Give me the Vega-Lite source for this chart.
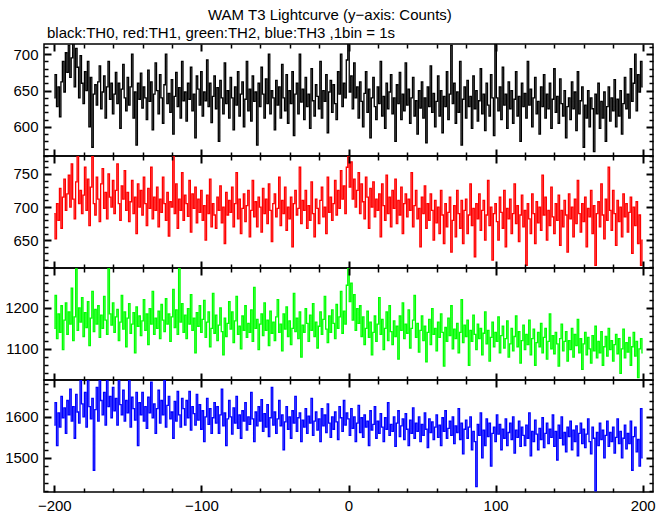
{
"$schema": "https://vega.github.io/schema/vega-lite/v6.json",
"padding": {"left": 3, "top": 8, "right": 10, "bottom": 2},
"background": "white",
"title": {"text": "WAM T3 Lightcurve (y−axis: Counts)", "anchor": "middle", "font": "Liberation Sans", "fontSize": 15, "fontWeight": "normal", "color": "black", "offset": 2},
"datasets": {"lc": [
{"t":-200,"TH0":640,"TH1":690,"TH2":1150,"TH3":1580},
{"t":-199,"TH0":672,"TH1":652,"TH2":1230,"TH3":1635},
{"t":-198,"TH0":628,"TH1":705,"TH2":1125,"TH3":1530},
{"t":-197,"TH0":655,"TH1":680,"TH2":1185,"TH3":1610},
{"t":-196,"TH0":614,"TH1":728,"TH2":1140,"TH3":1575},
{"t":-195,"TH0":662,"TH1":668,"TH2":1205,"TH3":1650},
{"t":-194,"TH0":690,"TH1":715,"TH2":1098,"TH3":1598},
{"t":-193,"TH0":648,"TH1":742,"TH2":1170,"TH3":1622},
{"t":-192,"TH0":702,"TH1":695,"TH2":1212,"TH3":1560},
{"t":-191,"TH0":675,"TH1":720,"TH2":1135,"TH3":1640},
{"t":-190,"TH0":712,"TH1":748,"TH2":1190,"TH3":1605},
{"t":-189,"TH0":668,"TH1":700,"TH2":1160,"TH3":1668},
{"t":-188,"TH0":695,"TH1":765,"TH2":1248,"TH3":1590},
{"t":-187,"TH0":720,"TH1":712,"TH2":1120,"TH3":1625},
{"t":-186,"TH0":655,"TH1":682,"TH2":1178,"TH3":1548},
{"t":-185,"TH0":708,"TH1":738,"TH2":1295,"TH3":1655},
{"t":-184,"TH0":682,"TH1":778,"TH2":1145,"TH3":1612},
{"t":-183,"TH0":640,"TH1":705,"TH2":1200,"TH3":1585},
{"t":-182,"TH0":698,"TH1":725,"TH2":1165,"TH3":1690},
{"t":-181,"TH0":660,"TH1":690,"TH2":1225,"TH3":1632},
{"t":-180,"TH0":632,"TH1":718,"TH2":1130,"TH3":1600},
{"t":-179,"TH0":676,"TH1":760,"TH2":1188,"TH3":1660},
{"t":-178,"TH0":650,"TH1":695,"TH2":1152,"TH3":1575},
{"t":-177,"TH0":690,"TH1":742,"TH2":1215,"TH3":1690},
{"t":-176,"TH0":600,"TH1":672,"TH2":1108,"TH3":1625},
{"t":-175,"TH0":668,"TH1":730,"TH2":1175,"TH3":1595},
{"t":-174,"TH0":572,"TH1":776,"TH2":1240,"TH3":1645},
{"t":-173,"TH0":645,"TH1":705,"TH2":1142,"TH3":1470},
{"t":-172,"TH0":658,"TH1":688,"TH2":1196,"TH3":1618},
{"t":-171,"TH0":630,"TH1":745,"TH2":1160,"TH3":1672},
{"t":-170,"TH0":662,"TH1":712,"TH2":1205,"TH3":1590},
{"t":-169,"TH0":684,"TH1":678,"TH2":1128,"TH3":1690},
{"t":-168,"TH0":625,"TH1":735,"TH2":1182,"TH3":1640},
{"t":-167,"TH0":648,"TH1":758,"TH2":1150,"TH3":1605},
{"t":-166,"TH0":670,"TH1":698,"TH2":1228,"TH3":1660},
{"t":-165,"TH0":612,"TH1":722,"TH2":1170,"TH3":1580},
{"t":-164,"TH0":655,"TH1":682,"TH2":1135,"TH3":1690},
{"t":-163,"TH0":690,"TH1":750,"TH2":1300,"TH3":1625},
{"t":-162,"TH0":638,"TH1":715,"TH2":1185,"TH3":1650},
{"t":-161,"TH0":660,"TH1":700,"TH2":1158,"TH3":1598},
{"t":-160,"TH0":618,"TH1":740,"TH2":1212,"TH3":1672},
{"t":-159,"TH0":645,"TH1":690,"TH2":1140,"TH3":1615},
{"t":-158,"TH0":675,"TH1":725,"TH2":1178,"TH3":1645},
{"t":-157,"TH0":632,"TH1":765,"TH2":1196,"TH3":1580},
{"t":-156,"TH0":660,"TH1":705,"TH2":1120,"TH3":1690},
{"t":-155,"TH0":598,"TH1":680,"TH2":1165,"TH3":1630},
{"t":-154,"TH0":652,"TH1":732,"TH2":1230,"TH3":1605},
{"t":-153,"TH0":686,"TH1":712,"TH2":1148,"TH3":1665},
{"t":-152,"TH0":640,"TH1":755,"TH2":1190,"TH3":1590},
{"t":-151,"TH0":622,"TH1":695,"TH2":1105,"TH3":1640},
{"t":-150,"TH0":668,"TH1":722,"TH2":1175,"TH3":1610},
{"t":-149,"TH0":630,"TH1":678,"TH2":1210,"TH3":1690},
{"t":-148,"TH0":655,"TH1":708,"TH2":1138,"TH3":1575},
{"t":-147,"TH0":700,"TH1":740,"TH2":1160,"TH3":1648},
{"t":-146,"TH0":612,"TH1":690,"TH2":1188,"TH3":1620},
{"t":-145,"TH0":648,"TH1":715,"TH2":1090,"TH3":1592},
{"t":-144,"TH0":575,"TH1":660,"TH2":1202,"TH3":1660},
{"t":-143,"TH0":660,"TH1":735,"TH2":1155,"TH3":1530},
{"t":-142,"TH0":638,"TH1":700,"TH2":1180,"TH3":1635},
{"t":-141,"TH0":674,"TH1":725,"TH2":1132,"TH3":1605},
{"t":-140,"TH0":626,"TH1":688,"TH2":1168,"TH3":1660},
{"t":-139,"TH0":655,"TH1":745,"TH2":1220,"TH3":1590},
{"t":-138,"TH0":640,"TH1":705,"TH2":1145,"TH3":1625},
{"t":-137,"TH0":610,"TH1":672,"TH2":1185,"TH3":1572},
{"t":-136,"TH0":678,"TH1":728,"TH2":1110,"TH3":1648},
{"t":-135,"TH0":635,"TH1":698,"TH2":1198,"TH3":1610},
{"t":-134,"TH0":662,"TH1":760,"TH2":1160,"TH3":1685},
{"t":-133,"TH0":596,"TH1":682,"TH2":1240,"TH3":1598},
{"t":-132,"TH0":645,"TH1":715,"TH2":1135,"TH3":1632},
{"t":-131,"TH0":688,"TH1":695,"TH2":1175,"TH3":1560},
{"t":-130,"TH0":650,"TH1":730,"TH2":1150,"TH3":1620},
{"t":-129,"TH0":618,"TH1":670,"TH2":1192,"TH3":1665},
{"t":-128,"TH0":672,"TH1":712,"TH2":1125,"TH3":1585},
{"t":-127,"TH0":640,"TH1":692,"TH2":1208,"TH3":1640},
{"t":-126,"TH0":605,"TH1":745,"TH2":1170,"TH3":1605},
{"t":-125,"TH0":658,"TH1":705,"TH2":1142,"TH3":1690},
{"t":-124,"TH0":700,"TH1":680,"TH2":1222,"TH3":1575},
{"t":-123,"TH0":632,"TH1":722,"TH2":1160,"TH3":1628},
{"t":-122,"TH0":646,"TH1":656,"TH2":1185,"TH3":1650},
{"t":-121,"TH0":620,"TH1":708,"TH2":1118,"TH3":1595},
{"t":-120,"TH0":665,"TH1":700,"TH2":1178,"TH3":1612},
{"t":-119,"TH0":590,"TH1":778,"TH2":1245,"TH3":1548},
{"t":-118,"TH0":642,"TH1":690,"TH2":1152,"TH3":1638},
{"t":-117,"TH0":675,"TH1":735,"TH2":1195,"TH3":1590},
{"t":-116,"TH0":628,"TH1":668,"TH2":1135,"TH3":1662},
{"t":-115,"TH0":654,"TH1":712,"TH2":1300,"TH3":1605},
{"t":-114,"TH0":612,"TH1":695,"TH2":1165,"TH3":1575},
{"t":-113,"TH0":690,"TH1":752,"TH2":1210,"TH3":1645},
{"t":-112,"TH0":636,"TH1":680,"TH2":1140,"TH3":1620},
{"t":-111,"TH0":648,"TH1":718,"TH2":1182,"TH3":1580},
{"t":-110,"TH0":608,"TH1":705,"TH2":1125,"TH3":1640},
{"t":-109,"TH0":660,"TH1":686,"TH2":1198,"TH3":1598},
{"t":-108,"TH0":638,"TH1":740,"TH2":1160,"TH3":1662},
{"t":-107,"TH0":682,"TH1":662,"TH2":1232,"TH3":1568},
{"t":-106,"TH0":622,"TH1":720,"TH2":1145,"TH3":1625},
{"t":-105,"TH0":645,"TH1":698,"TH2":1175,"TH3":1608},
{"t":-104,"TH0":585,"TH1":730,"TH2":1090,"TH3":1580},
{"t":-103,"TH0":670,"TH1":676,"TH2":1188,"TH3":1655},
{"t":-102,"TH0":652,"TH1":712,"TH2":1155,"TH3":1592},
{"t":-101,"TH0":630,"TH1":692,"TH2":1205,"TH3":1630},
{"t":-100,"TH0":676,"TH1":725,"TH2":1140,"TH3":1570},
{"t":-99,"TH0":615,"TH1":680,"TH2":1172,"TH3":1615},
{"t":-98,"TH0":648,"TH1":702,"TH2":1218,"TH3":1540},
{"t":-97,"TH0":636,"TH1":650,"TH2":1128,"TH3":1600},
{"t":-96,"TH0":692,"TH1":718,"TH2":1165,"TH3":1645},
{"t":-95,"TH0":628,"TH1":690,"TH2":1190,"TH3":1582},
{"t":-94,"TH0":660,"TH1":742,"TH2":1105,"TH3":1620},
{"t":-93,"TH0":606,"TH1":670,"TH2":1150,"TH3":1560},
{"t":-92,"TH0":642,"TH1":705,"TH2":1235,"TH3":1598},
{"t":-91,"TH0":670,"TH1":688,"TH2":1138,"TH3":1635},
{"t":-90,"TH0":625,"TH1":668,"TH2":1182,"TH3":1585},
{"t":-89,"TH0":654,"TH1":715,"TH2":1120,"TH3":1625},
{"t":-88,"TH0":580,"TH1":695,"TH2":1158,"TH3":1560},
{"t":-87,"TH0":664,"TH1":732,"TH2":1200,"TH3":1605},
{"t":-86,"TH0":640,"TH1":676,"TH2":1142,"TH3":1668},
{"t":-85,"TH0":618,"TH1":700,"TH2":1085,"TH3":1578},
{"t":-84,"TH0":688,"TH1":645,"TH2":1175,"TH3":1610},
{"t":-83,"TH0":632,"TH1":722,"TH2":1130,"TH3":1530},
{"t":-82,"TH0":650,"TH1":688,"TH2":1162,"TH3":1595},
{"t":-81,"TH0":612,"TH1":710,"TH2":1215,"TH3":1640},
{"t":-80,"TH0":668,"TH1":692,"TH2":1148,"TH3":1600},
{"t":-79,"TH0":640,"TH1":730,"TH2":1190,"TH3":1558},
{"t":-78,"TH0":596,"TH1":670,"TH2":1115,"TH3":1622},
{"t":-77,"TH0":655,"TH1":705,"TH2":1168,"TH3":1585},
{"t":-76,"TH0":630,"TH1":752,"TH2":1228,"TH3":1650},
{"t":-75,"TH0":676,"TH1":682,"TH2":1135,"TH3":1572},
{"t":-74,"TH0":615,"TH1":712,"TH2":1155,"TH3":1605},
{"t":-73,"TH0":645,"TH1":660,"TH2":1100,"TH3":1548},
{"t":-72,"TH0":662,"TH1":698,"TH2":1180,"TH3":1615},
{"t":-71,"TH0":600,"TH1":720,"TH2":1145,"TH3":1590},
{"t":-70,"TH0":638,"TH1":678,"TH2":1205,"TH3":1635},
{"t":-69,"TH0":690,"TH1":702,"TH2":1128,"TH3":1568},
{"t":-68,"TH0":622,"TH1":725,"TH2":1162,"TH3":1600},
{"t":-67,"TH0":652,"TH1":655,"TH2":1140,"TH3":1582},
{"t":-66,"TH0":608,"TH1":695,"TH2":1195,"TH3":1660},
{"t":-65,"TH0":670,"TH1":740,"TH2":1118,"TH3":1595},
{"t":-64,"TH0":635,"TH1":685,"TH2":1250,"TH3":1540},
{"t":-63,"TH0":648,"TH1":708,"TH2":1150,"TH3":1612},
{"t":-62,"TH0":575,"TH1":670,"TH2":1172,"TH3":1578},
{"t":-61,"TH0":660,"TH1":715,"TH2":1098,"TH3":1625},
{"t":-60,"TH0":628,"TH1":700,"TH2":1160,"TH3":1590},
{"t":-59,"TH0":682,"TH1":662,"TH2":1185,"TH3":1642},
{"t":-58,"TH0":645,"TH1":728,"TH2":1132,"TH3":1565},
{"t":-57,"TH0":612,"TH1":690,"TH2":1212,"TH3":1608},
{"t":-56,"TH0":666,"TH1":712,"TH2":1145,"TH3":1575},
{"t":-55,"TH0":632,"TH1":675,"TH2":1170,"TH3":1630},
{"t":-54,"TH0":700,"TH1":735,"TH2":1108,"TH3":1552},
{"t":-53,"TH0":618,"TH1":695,"TH2":1192,"TH3":1598},
{"t":-52,"TH0":650,"TH1":648,"TH2":1138,"TH3":1672},
{"t":-51,"TH0":640,"TH1":705,"TH2":1165,"TH3":1580},
{"t":-50,"TH0":596,"TH1":720,"TH2":1120,"TH3":1612},
{"t":-49,"TH0":664,"TH1":685,"TH2":1178,"TH3":1560},
{"t":-48,"TH0":630,"TH1":698,"TH2":1220,"TH3":1595},
{"t":-47,"TH0":655,"TH1":745,"TH2":1140,"TH3":1640},
{"t":-46,"TH0":612,"TH1":672,"TH2":1160,"TH3":1578},
{"t":-45,"TH0":686,"TH1":710,"TH2":1095,"TH3":1605},
{"t":-44,"TH0":640,"TH1":690,"TH2":1185,"TH3":1520},
{"t":-43,"TH0":622,"TH1":730,"TH2":1148,"TH3":1588},
{"t":-42,"TH0":672,"TH1":665,"TH2":1202,"TH3":1625},
{"t":-41,"TH0":605,"TH1":700,"TH2":1130,"TH3":1570},
{"t":-40,"TH0":650,"TH1":682,"TH2":1168,"TH3":1600},
{"t":-39,"TH0":632,"TH1":715,"TH2":1110,"TH3":1548},
{"t":-38,"TH0":676,"TH1":640,"TH2":1150,"TH3":1615},
{"t":-37,"TH0":588,"TH1":705,"TH2":1235,"TH3":1585},
{"t":-36,"TH0":645,"TH1":725,"TH2":1142,"TH3":1650},
{"t":-35,"TH0":660,"TH1":688,"TH2":1175,"TH3":1565},
{"t":-34,"TH0":618,"TH1":698,"TH2":1125,"TH3":1598},
{"t":-33,"TH0":700,"TH1":760,"TH2":1190,"TH3":1610},
{"t":-32,"TH0":634,"TH1":675,"TH2":1080,"TH3":1540},
{"t":-31,"TH0":652,"TH1":710,"TH2":1158,"TH3":1592},
{"t":-30,"TH0":610,"TH1":695,"TH2":1140,"TH3":1575},
{"t":-29,"TH0":668,"TH1":725,"TH2":1198,"TH3":1620},
{"t":-28,"TH0":628,"TH1":668,"TH2":1162,"TH3":1560},
{"t":-27,"TH0":645,"TH1":702,"TH2":1118,"TH3":1602},
{"t":-26,"TH0":598,"TH1":680,"TH2":1182,"TH3":1585},
{"t":-25,"TH0":680,"TH1":738,"TH2":1145,"TH3":1645},
{"t":-24,"TH0":636,"TH1":690,"TH2":1210,"TH3":1555},
{"t":-23,"TH0":615,"TH1":655,"TH2":1130,"TH3":1590},
{"t":-22,"TH0":658,"TH1":712,"TH2":1165,"TH3":1612},
{"t":-21,"TH0":642,"TH1":698,"TH2":1102,"TH3":1568},
{"t":-20,"TH0":625,"TH1":675,"TH2":1155,"TH3":1595},
{"t":-19,"TH0":690,"TH1":710,"TH2":1190,"TH3":1540},
{"t":-18,"TH0":612,"TH1":730,"TH2":1135,"TH3":1620},
{"t":-17,"TH0":650,"TH1":685,"TH2":1172,"TH3":1578},
{"t":-16,"TH0":635,"TH1":700,"TH2":1228,"TH3":1605},
{"t":-15,"TH0":672,"TH1":660,"TH2":1148,"TH3":1562},
{"t":-14,"TH0":592,"TH1":745,"TH2":1115,"TH3":1632},
{"t":-13,"TH0":648,"TH1":692,"TH2":1180,"TH3":1585},
{"t":-12,"TH0":664,"TH1":715,"TH2":1140,"TH3":1550},
{"t":-11,"TH0":620,"TH1":680,"TH2":1195,"TH3":1600},
{"t":-10,"TH0":658,"TH1":705,"TH2":1162,"TH3":1570},
{"t":-9,"TH0":632,"TH1":740,"TH2":1125,"TH3":1612},
{"t":-8,"TH0":610,"TH1":688,"TH2":1208,"TH3":1588},
{"t":-7,"TH0":676,"TH1":725,"TH2":1150,"TH3":1545},
{"t":-6,"TH0":645,"TH1":698,"TH2":1178,"TH3":1625},
{"t":-5,"TH0":700,"TH1":755,"TH2":1240,"TH3":1598},
{"t":-4,"TH0":628,"TH1":712,"TH2":1138,"TH3":1565},
{"t":-3,"TH0":660,"TH1":732,"TH2":1192,"TH3":1640},
{"t":-2,"TH0":640,"TH1":690,"TH2":1160,"TH3":1580},
{"t":-1,"TH0":692,"TH1":760,"TH2":1255,"TH3":1610},
{"t":0,"TH0":715,"TH1":778,"TH2":1298,"TH3":1595},
{"t":1,"TH0":648,"TH1":730,"TH2":1215,"TH3":1555},
{"t":2,"TH0":670,"TH1":768,"TH2":1260,"TH3":1620},
{"t":3,"TH0":625,"TH1":712,"TH2":1170,"TH3":1572},
{"t":4,"TH0":688,"TH1":742,"TH2":1232,"TH3":1600},
{"t":5,"TH0":640,"TH1":700,"TH2":1145,"TH3":1540},
{"t":6,"TH0":655,"TH1":725,"TH2":1198,"TH3":1585},
{"t":7,"TH0":612,"TH1":752,"TH2":1162,"TH3":1628},
{"t":8,"TH0":662,"TH1":690,"TH2":1205,"TH3":1562},
{"t":9,"TH0":635,"TH1":735,"TH2":1130,"TH3":1598},
{"t":10,"TH0":600,"TH1":708,"TH2":1178,"TH3":1550},
{"t":11,"TH0":646,"TH1":682,"TH2":1110,"TH3":1605},
{"t":12,"TH0":676,"TH1":745,"TH2":1150,"TH3":1575},
{"t":13,"TH0":620,"TH1":715,"TH2":1192,"TH3":1590},
{"t":14,"TH0":652,"TH1":668,"TH2":1128,"TH3":1530},
{"t":15,"TH0":585,"TH1":728,"TH2":1165,"TH3":1615},
{"t":16,"TH0":640,"TH1":700,"TH2":1085,"TH3":1568},
{"t":17,"TH0":668,"TH1":738,"TH2":1140,"TH3":1582},
{"t":18,"TH0":628,"TH1":685,"TH2":1180,"TH3":1625},
{"t":19,"TH0":610,"TH1":712,"TH2":1118,"TH3":1548},
{"t":20,"TH0":655,"TH1":695,"TH2":1160,"TH3":1590},
{"t":21,"TH0":632,"TH1":720,"TH2":1225,"TH3":1560},
{"t":22,"TH0":690,"TH1":655,"TH2":1135,"TH3":1608},
{"t":23,"TH0":615,"TH1":735,"TH2":1172,"TH3":1575},
{"t":24,"TH0":642,"TH1":702,"TH2":1098,"TH3":1540},
{"t":25,"TH0":598,"TH1":680,"TH2":1150,"TH3":1598},
{"t":26,"TH0":660,"TH1":748,"TH2":1190,"TH3":1570},
{"t":27,"TH0":625,"TH1":690,"TH2":1120,"TH3":1635},
{"t":28,"TH0":648,"TH1":715,"TH2":1205,"TH3":1555},
{"t":29,"TH0":672,"TH1":670,"TH2":1142,"TH3":1582},
{"t":30,"TH0":618,"TH1":725,"TH2":1110,"TH3":1565},
{"t":31,"TH0":640,"TH1":698,"TH2":1168,"TH3":1600},
{"t":32,"TH0":580,"TH1":742,"TH2":1130,"TH3":1528},
{"t":33,"TH0":658,"TH1":675,"TH2":1155,"TH3":1585},
{"t":34,"TH0":632,"TH1":710,"TH2":1075,"TH3":1615},
{"t":35,"TH0":675,"TH1":688,"TH2":1180,"TH3":1552},
{"t":36,"TH0":610,"TH1":730,"TH2":1145,"TH3":1578},
{"t":37,"TH0":645,"TH1":660,"TH2":1212,"TH3":1595},
{"t":38,"TH0":622,"TH1":705,"TH2":1125,"TH3":1545},
{"t":39,"TH0":688,"TH1":720,"TH2":1160,"TH3":1608},
{"t":40,"TH0":630,"TH1":685,"TH2":1138,"TH3":1570},
{"t":41,"TH0":652,"TH1":712,"TH2":1195,"TH3":1530},
{"t":42,"TH0":605,"TH1":695,"TH2":1102,"TH3":1592},
{"t":43,"TH0":640,"TH1":752,"TH2":1150,"TH3":1560},
{"t":44,"TH0":668,"TH1":670,"TH2":1170,"TH3":1622},
{"t":45,"TH0":615,"TH1":702,"TH2":1230,"TH3":1548},
{"t":46,"TH0":636,"TH1":725,"TH2":1128,"TH3":1585},
{"t":47,"TH0":590,"TH1":682,"TH2":1162,"TH3":1565},
{"t":48,"TH0":650,"TH1":698,"TH2":1092,"TH3":1600},
{"t":49,"TH0":626,"TH1":640,"TH2":1145,"TH3":1540},
{"t":50,"TH0":662,"TH1":715,"TH2":1180,"TH3":1582},
{"t":51,"TH0":612,"TH1":690,"TH2":1120,"TH3":1555},
{"t":52,"TH0":640,"TH1":732,"TH2":1155,"TH3":1610},
{"t":53,"TH0":578,"TH1":668,"TH2":1068,"TH3":1570},
{"t":54,"TH0":655,"TH1":705,"TH2":1140,"TH3":1525},
{"t":55,"TH0":628,"TH1":680,"TH2":1172,"TH3":1595},
{"t":56,"TH0":684,"TH1":720,"TH2":1110,"TH3":1562},
{"t":57,"TH0":620,"TH1":695,"TH2":1198,"TH3":1588},
{"t":58,"TH0":646,"TH1":650,"TH2":1135,"TH3":1545},
{"t":59,"TH0":600,"TH1":710,"TH2":1150,"TH3":1575},
{"t":60,"TH0":635,"TH1":676,"TH2":1095,"TH3":1605},
{"t":61,"TH0":670,"TH1":700,"TH2":1165,"TH3":1550},
{"t":62,"TH0":615,"TH1":660,"TH2":1128,"TH3":1580},
{"t":63,"TH0":650,"TH1":725,"TH2":1185,"TH3":1530},
{"t":64,"TH0":592,"TH1":688,"TH2":1140,"TH3":1598},
{"t":65,"TH0":642,"TH1":645,"TH2":1058,"TH3":1565},
{"t":66,"TH0":628,"TH1":705,"TH2":1152,"TH3":1615},
{"t":67,"TH0":676,"TH1":670,"TH2":1118,"TH3":1548},
{"t":68,"TH0":610,"TH1":692,"TH2":1175,"TH3":1572},
{"t":69,"TH0":645,"TH1":715,"TH2":1132,"TH3":1590},
{"t":70,"TH0":712,"TH1":632,"TH2":1205,"TH3":1555},
{"t":71,"TH0":632,"TH1":680,"TH2":1100,"TH3":1600},
{"t":72,"TH0":660,"TH1":702,"TH2":1148,"TH3":1535},
{"t":73,"TH0":605,"TH1":655,"TH2":1125,"TH3":1578},
{"t":74,"TH0":648,"TH1":725,"TH2":1162,"TH3":1562},
{"t":75,"TH0":620,"TH1":690,"TH2":1090,"TH3":1620},
{"t":76,"TH0":690,"TH1":668,"TH2":1140,"TH3":1545},
{"t":77,"TH0":575,"TH1":710,"TH2":1220,"TH3":1585},
{"t":78,"TH0":638,"TH1":645,"TH2":1115,"TH3":1510},
{"t":79,"TH0":655,"TH1":695,"TH2":1158,"TH3":1570},
{"t":80,"TH0":612,"TH1":712,"TH2":1130,"TH3":1592},
{"t":81,"TH0":664,"TH1":660,"TH2":1170,"TH3":1548},
{"t":82,"TH0":628,"TH1":688,"TH2":1060,"TH3":1575},
{"t":83,"TH0":642,"TH1":735,"TH2":1145,"TH3":1600},
{"t":84,"TH0":598,"TH1":672,"TH2":1118,"TH3":1520},
{"t":85,"TH0":670,"TH1":698,"TH2":1182,"TH3":1565},
{"t":86,"TH0":625,"TH1":625,"TH2":1135,"TH3":1540},
{"t":87,"TH0":650,"TH1":705,"TH2":1098,"TH3":1430},
{"t":88,"TH0":608,"TH1":682,"TH2":1160,"TH3":1582},
{"t":89,"TH0":636,"TH1":720,"TH2":1125,"TH3":1555},
{"t":90,"TH0":680,"TH1":665,"TH2":1150,"TH3":1610},
{"t":91,"TH0":618,"TH1":695,"TH2":1085,"TH3":1500},
{"t":92,"TH0":645,"TH1":710,"TH2":1138,"TH3":1568},
{"t":93,"TH0":595,"TH1":650,"TH2":1190,"TH3":1530},
{"t":94,"TH0":660,"TH1":688,"TH2":1112,"TH3":1595},
{"t":95,"TH0":630,"TH1":740,"TH2":1145,"TH3":1552},
{"t":96,"TH0":615,"TH1":672,"TH2":1070,"TH3":1585},
{"t":97,"TH0":672,"TH1":700,"TH2":1128,"TH3":1480},
{"t":98,"TH0":640,"TH1":620,"TH2":1165,"TH3":1560},
{"t":99,"TH0":588,"TH1":690,"TH2":1105,"TH3":1575},
{"t":100,"TH0":715,"TH1":705,"TH2":1140,"TH3":1540},
{"t":101,"TH0":640,"TH1":678,"TH2":1118,"TH3":1605},
{"t":102,"TH0":622,"TH1":650,"TH2":1178,"TH3":1558},
{"t":103,"TH0":655,"TH1":715,"TH2":1090,"TH3":1582},
{"t":104,"TH0":610,"TH1":692,"TH2":1132,"TH3":1520},
{"t":105,"TH0":682,"TH1":668,"TH2":1155,"TH3":1570},
{"t":106,"TH0":630,"TH1":725,"TH2":1102,"TH3":1548},
{"t":107,"TH0":645,"TH1":640,"TH2":1125,"TH3":1595},
{"t":108,"TH0":598,"TH1":698,"TH2":1168,"TH3":1530},
{"t":109,"TH0":662,"TH1":682,"TH2":1080,"TH3":1562},
{"t":110,"TH0":625,"TH1":712,"TH2":1112,"TH3":1585},
{"t":111,"TH0":650,"TH1":660,"TH2":1150,"TH3":1545},
{"t":112,"TH0":605,"TH1":690,"TH2":1095,"TH3":1600},
{"t":113,"TH0":638,"TH1":735,"TH2":1130,"TH3":1512},
{"t":114,"TH0":676,"TH1":675,"TH2":1180,"TH3":1568},
{"t":115,"TH0":615,"TH1":702,"TH2":1105,"TH3":1550},
{"t":116,"TH0":642,"TH1":648,"TH2":1142,"TH3":1590},
{"t":117,"TH0":580,"TH1":688,"TH2":1065,"TH3":1528},
{"t":118,"TH0":660,"TH1":718,"TH2":1120,"TH3":1575},
{"t":119,"TH0":628,"TH1":670,"TH2":1158,"TH3":1555},
{"t":120,"TH0":646,"TH1":695,"TH2":1098,"TH3":1530},
{"t":121,"TH0":612,"TH1":612,"TH2":1135,"TH3":1580},
{"t":122,"TH0":690,"TH1":705,"TH2":1110,"TH3":1548},
{"t":123,"TH0":630,"TH1":682,"TH2":1170,"TH3":1610},
{"t":124,"TH0":652,"TH1":660,"TH2":1085,"TH3":1505},
{"t":125,"TH0":600,"TH1":720,"TH2":1125,"TH3":1565},
{"t":126,"TH0":640,"TH1":690,"TH2":1148,"TH3":1540},
{"t":127,"TH0":668,"TH1":645,"TH2":1060,"TH3":1592},
{"t":128,"TH0":618,"TH1":708,"TH2":1115,"TH3":1558},
{"t":129,"TH0":635,"TH1":676,"TH2":1140,"TH3":1520},
{"t":130,"TH0":590,"TH1":700,"TH2":1105,"TH3":1572},
{"t":131,"TH0":655,"TH1":665,"TH2":1162,"TH3":1545},
{"t":132,"TH0":628,"TH1":748,"TH2":1090,"TH3":1598},
{"t":133,"TH0":672,"TH1":688,"TH2":1128,"TH3":1525},
{"t":134,"TH0":612,"TH1":715,"TH2":1150,"TH3":1560},
{"t":135,"TH0":645,"TH1":650,"TH2":1075,"TH3":1585},
{"t":136,"TH0":625,"TH1":695,"TH2":1118,"TH3":1535},
{"t":137,"TH0":660,"TH1":672,"TH2":1185,"TH3":1570},
{"t":138,"TH0":598,"TH1":730,"TH2":1100,"TH3":1550},
{"t":139,"TH0":638,"TH1":685,"TH2":1132,"TH3":1605},
{"t":140,"TH0":680,"TH1":660,"TH2":1088,"TH3":1528},
{"t":141,"TH0":620,"TH1":705,"TH2":1140,"TH3":1565},
{"t":142,"TH0":642,"TH1":680,"TH2":1112,"TH3":1495},
{"t":143,"TH0":605,"TH1":718,"TH2":1058,"TH3":1580},
{"t":144,"TH0":666,"TH1":642,"TH2":1125,"TH3":1548},
{"t":145,"TH0":632,"TH1":695,"TH2":1160,"TH3":1600},
{"t":146,"TH0":615,"TH1":670,"TH2":1095,"TH3":1532},
{"t":147,"TH0":650,"TH1":710,"TH2":1118,"TH3":1562},
{"t":148,"TH0":585,"TH1":688,"TH2":1142,"TH3":1515},
{"t":149,"TH0":628,"TH1":632,"TH2":1070,"TH3":1575},
{"t":150,"TH0":640,"TH1":720,"TH2":1120,"TH3":1552},
{"t":151,"TH0":610,"TH1":682,"TH2":1098,"TH3":1590},
{"t":152,"TH0":662,"TH1":700,"TH2":1150,"TH3":1520},
{"t":153,"TH0":625,"TH1":655,"TH2":1080,"TH3":1568},
{"t":154,"TH0":648,"TH1":712,"TH2":1135,"TH3":1540},
{"t":155,"TH0":595,"TH1":675,"TH2":1108,"TH3":1578},
{"t":156,"TH0":676,"TH1":740,"TH2":1172,"TH3":1505},
{"t":157,"TH0":618,"TH1":690,"TH2":1090,"TH3":1560},
{"t":158,"TH0":636,"TH1":662,"TH2":1125,"TH3":1585},
{"t":159,"TH0":655,"TH1":705,"TH2":1050,"TH3":1535},
{"t":160,"TH0":572,"TH1":678,"TH2":1112,"TH3":1570},
{"t":161,"TH0":630,"TH1":715,"TH2":1140,"TH3":1525},
{"t":162,"TH0":612,"TH1":640,"TH2":1085,"TH3":1558},
{"t":163,"TH0":650,"TH1":698,"TH2":1128,"TH3":1595},
{"t":164,"TH0":600,"TH1":685,"TH2":1100,"TH3":1540},
{"t":165,"TH0":640,"TH1":725,"TH2":1065,"TH3":1510},
{"t":166,"TH0":625,"TH1":660,"TH2":1132,"TH3":1575},
{"t":167,"TH0":566,"TH1":702,"TH2":1095,"TH3":1548},
{"t":168,"TH0":645,"TH1":612,"TH2":1155,"TH3":1420},
{"t":169,"TH0":618,"TH1":690,"TH2":1078,"TH3":1562},
{"t":170,"TH0":660,"TH1":708,"TH2":1118,"TH3":1530},
{"t":171,"TH0":598,"TH1":670,"TH2":1090,"TH3":1585},
{"t":172,"TH0":635,"TH1":735,"TH2":1142,"TH3":1545},
{"t":173,"TH0":612,"TH1":688,"TH2":1060,"TH3":1568},
{"t":174,"TH0":648,"TH1":652,"TH2":1105,"TH3":1500},
{"t":175,"TH0":580,"TH1":712,"TH2":1130,"TH3":1555},
{"t":176,"TH0":628,"TH1":680,"TH2":1082,"TH3":1590},
{"t":177,"TH0":655,"TH1":760,"TH2":1150,"TH3":1528},
{"t":178,"TH0":608,"TH1":695,"TH2":1098,"TH3":1562},
{"t":179,"TH0":640,"TH1":665,"TH2":1120,"TH3":1540},
{"t":180,"TH0":622,"TH1":725,"TH2":1070,"TH3":1575},
{"t":181,"TH0":665,"TH1":690,"TH2":1110,"TH3":1512},
{"t":182,"TH0":600,"TH1":642,"TH2":1135,"TH3":1550},
{"t":183,"TH0":638,"TH1":710,"TH2":1088,"TH3":1595},
{"t":184,"TH0":615,"TH1":678,"TH2":1125,"TH3":1535},
{"t":185,"TH0":650,"TH1":700,"TH2":1040,"TH3":1565},
{"t":186,"TH0":590,"TH1":655,"TH2":1100,"TH3":1500},
{"t":187,"TH0":632,"TH1":720,"TH2":1148,"TH3":1548},
{"t":188,"TH0":668,"TH1":685,"TH2":1078,"TH3":1580},
{"t":189,"TH0":625,"TH1":705,"TH2":1115,"TH3":1522},
{"t":190,"TH0":645,"TH1":662,"TH2":1092,"TH3":1560},
{"t":191,"TH0":612,"TH1":692,"TH2":1128,"TH3":1535},
{"t":192,"TH0":680,"TH1":715,"TH2":1060,"TH3":1590},
{"t":193,"TH0":635,"TH1":630,"TH2":1105,"TH3":1470},
{"t":194,"TH0":660,"TH1":700,"TH2":1140,"TH3":1552},
{"t":195,"TH0":700,"TH1":672,"TH2":1082,"TH3":1575},
{"t":196,"TH0":622,"TH1":708,"TH2":1118,"TH3":1515},
{"t":197,"TH0":672,"TH1":645,"TH2":1030,"TH3":1545},
{"t":198,"TH0":648,"TH1":688,"TH2":1100,"TH3":1480},
{"t":199,"TH0":690,"TH1":612,"TH2":1125,"TH3":1620},
{"t":200,"TH0":655,"TH1":650,"TH2":1090,"TH3":1500}
]},
"data": {"name": "lc"},
"spacing": 0,
"bounds": "flush",
"config": {
  "view": {"stroke": "black", "strokeWidth": 1.5},
  "axis": {"domain": false, "grid": false, "labelFont": "Liberation Sans", "labelFontSize": 15, "labelColor": "black", "tickColor": "black", "labelFlush": false, "labelOverlap": false, "format": "d"},
  "title": {"font": "Liberation Sans", "fontWeight": "normal", "color": "black", "fontSize": 15}
},
"vconcat": [
{
 "width": 609, "height": 112,
 "title": {"text": "black:TH0, red:TH1, green:TH2, blue:TH3 ,1bin = 1s", "anchor": "start", "frame": "group", "fontSize": 15, "fontWeight": "normal", "offset": 2, "dx": 3},
 "layer": [
  {"mark": {"type": "line", "color": "black", "strokeWidth": 1.3, "interpolate": "step", "clip": true},
   "encoding": {
    "x": {"field": "t", "type": "quantitative", "scale": {"domain": [-207, 207], "nice": false, "zero": false}, "axis": {"title": null, "orient": "bottom", "values": [-200,-100,0,100,200], "ticks": false, "labels": false}},
    "y": {"field": "TH0", "type": "quantitative", "scale": {"domain": [560, 714], "nice": false, "zero": false}, "axis": {"title": null, "orient": "left", "values": [600,650,700], "ticks": false, "labelPadding": 6, "format": "d"}}}},
  {"mark": {"type": "line", "opacity": 0, "clip": true},
   "encoding": {
    "x": {"field": "t", "type": "quantitative", "scale": {"domain": [-207, 207], "nice": false, "zero": false}, "axis": {"title": null, "orient": "bottom", "values": [-200,-100,0,100,200], "labels": false, "tickSize": -7, "tickWidth": 2, "zindex": 2}},
    "y": {"field": "TH0", "type": "quantitative", "scale": {"domain": [560, 714], "nice": false, "zero": false}, "axis": {"title": null, "orient": "left", "values": [600,650,700], "labels": false, "tickSize": -7, "tickWidth": 2, "zindex": 2}}}},
  {"mark": {"type": "line", "opacity": 0, "clip": true},
   "encoding": {
    "x": {"field": "t", "type": "quantitative", "scale": {"domain": [-207, 207], "nice": false, "zero": false}, "axis": {"title": null, "orient": "top", "values": [-200,-100,0,100,200], "labels": false, "tickSize": -7, "tickWidth": 2, "zindex": 2}},
    "y": {"field": "TH0", "type": "quantitative", "scale": {"domain": [560, 714], "nice": false, "zero": false}, "axis": {"title": null, "orient": "right", "values": [600,650,700], "labels": false, "tickSize": -7, "tickWidth": 2, "zindex": 2}}}},
  {"mark": {"type": "line", "opacity": 0, "clip": true},
   "encoding": {
    "x": {"field": "t", "type": "quantitative", "scale": {"domain": [-207, 207], "nice": false, "zero": false}, "axis": {"title": null, "orient": "bottom", "values": [-180,-160,-140,-120,-80,-60,-40,-20,20,40,60,80,120,140,160,180], "labels": false, "tickSize": -4, "tickWidth": 1.5, "zindex": 2}},
    "y": {"field": "TH0", "type": "quantitative", "scale": {"domain": [560, 714], "nice": false, "zero": false}, "axis": {"title": null, "orient": "left", "values": [560,570,580,590,610,620,630,640,660,670,680,690,710], "labels": false, "tickSize": -4, "tickWidth": 1.5, "zindex": 2}}}},
  {"mark": {"type": "line", "opacity": 0, "clip": true},
   "encoding": {
    "x": {"field": "t", "type": "quantitative", "scale": {"domain": [-207, 207], "nice": false, "zero": false}, "axis": {"title": null, "orient": "top", "values": [-180,-160,-140,-120,-80,-60,-40,-20,20,40,60,80,120,140,160,180], "labels": false, "tickSize": -4, "tickWidth": 1.5, "zindex": 2}},
    "y": {"field": "TH0", "type": "quantitative", "scale": {"domain": [560, 714], "nice": false, "zero": false}, "axis": {"title": null, "orient": "right", "values": [560,570,580,590,610,620,630,640,660,670,680,690,710], "labels": false, "tickSize": -4, "tickWidth": 1.5, "zindex": 2}}}}
 ],
 "resolve": {"axis": {"x": "independent", "y": "independent"}}
},
{
 "width": 609, "height": 112,
 "layer": [
  {"mark": {"type": "line", "color": "#ff0000", "strokeWidth": 1.3, "interpolate": "step", "clip": true},
   "encoding": {
    "x": {"field": "t", "type": "quantitative", "scale": {"domain": [-207, 207], "nice": false, "zero": false}, "axis": {"title": null, "orient": "bottom", "values": [-200,-100,0,100,200], "ticks": false, "labels": false}},
    "y": {"field": "TH1", "type": "quantitative", "scale": {"domain": [608, 777], "nice": false, "zero": false}, "axis": {"title": null, "orient": "left", "values": [650,700,750], "ticks": false, "labelPadding": 6, "format": "d"}}}},
  {"mark": {"type": "line", "opacity": 0, "clip": true},
   "encoding": {
    "x": {"field": "t", "type": "quantitative", "scale": {"domain": [-207, 207], "nice": false, "zero": false}, "axis": {"title": null, "orient": "bottom", "values": [-200,-100,0,100,200], "labels": false, "tickSize": -7, "tickWidth": 2, "zindex": 2}},
    "y": {"field": "TH1", "type": "quantitative", "scale": {"domain": [608, 777], "nice": false, "zero": false}, "axis": {"title": null, "orient": "left", "values": [650,700,750], "labels": false, "tickSize": -7, "tickWidth": 2, "zindex": 2}}}},
  {"mark": {"type": "line", "opacity": 0, "clip": true},
   "encoding": {
    "x": {"field": "t", "type": "quantitative", "scale": {"domain": [-207, 207], "nice": false, "zero": false}, "axis": {"title": null, "orient": "top", "values": [-200,-100,0,100,200], "labels": false, "tickSize": -7, "tickWidth": 2, "zindex": 2}},
    "y": {"field": "TH1", "type": "quantitative", "scale": {"domain": [608, 777], "nice": false, "zero": false}, "axis": {"title": null, "orient": "right", "values": [650,700,750], "labels": false, "tickSize": -7, "tickWidth": 2, "zindex": 2}}}},
  {"mark": {"type": "line", "opacity": 0, "clip": true},
   "encoding": {
    "x": {"field": "t", "type": "quantitative", "scale": {"domain": [-207, 207], "nice": false, "zero": false}, "axis": {"title": null, "orient": "bottom", "values": [-180,-160,-140,-120,-80,-60,-40,-20,20,40,60,80,120,140,160,180], "labels": false, "tickSize": -4, "tickWidth": 1.5, "zindex": 2}},
    "y": {"field": "TH1", "type": "quantitative", "scale": {"domain": [608, 777], "nice": false, "zero": false}, "axis": {"title": null, "orient": "left", "values": [610,620,630,640,660,670,680,690,710,720,730,740,760,770], "labels": false, "tickSize": -4, "tickWidth": 1.5, "zindex": 2}}}},
  {"mark": {"type": "line", "opacity": 0, "clip": true},
   "encoding": {
    "x": {"field": "t", "type": "quantitative", "scale": {"domain": [-207, 207], "nice": false, "zero": false}, "axis": {"title": null, "orient": "top", "values": [-180,-160,-140,-120,-80,-60,-40,-20,20,40,60,80,120,140,160,180], "labels": false, "tickSize": -4, "tickWidth": 1.5, "zindex": 2}},
    "y": {"field": "TH1", "type": "quantitative", "scale": {"domain": [608, 777], "nice": false, "zero": false}, "axis": {"title": null, "orient": "right", "values": [610,620,630,640,660,670,680,690,710,720,730,740,760,770], "labels": false, "tickSize": -4, "tickWidth": 1.5, "zindex": 2}}}}
 ],
 "resolve": {"axis": {"x": "independent", "y": "independent"}}
},
{
 "width": 609, "height": 112,
 "layer": [
  {"mark": {"type": "line", "color": "#00ff00", "strokeWidth": 1.3, "interpolate": "step", "clip": true},
   "encoding": {
    "x": {"field": "t", "type": "quantitative", "scale": {"domain": [-207, 207], "nice": false, "zero": false}, "axis": {"title": null, "orient": "bottom", "values": [-200,-100,0,100,200], "ticks": false, "labels": false}},
    "y": {"field": "TH2", "type": "quantitative", "scale": {"domain": [1024, 1297], "nice": false, "zero": false}, "axis": {"title": null, "orient": "left", "values": [1100,1200], "ticks": false, "labelPadding": 6, "format": "d"}}}},
  {"mark": {"type": "line", "opacity": 0, "clip": true},
   "encoding": {
    "x": {"field": "t", "type": "quantitative", "scale": {"domain": [-207, 207], "nice": false, "zero": false}, "axis": {"title": null, "orient": "bottom", "values": [-200,-100,0,100,200], "labels": false, "tickSize": -7, "tickWidth": 2, "zindex": 2}},
    "y": {"field": "TH2", "type": "quantitative", "scale": {"domain": [1024, 1297], "nice": false, "zero": false}, "axis": {"title": null, "orient": "left", "values": [1100,1200], "labels": false, "tickSize": -7, "tickWidth": 2, "zindex": 2}}}},
  {"mark": {"type": "line", "opacity": 0, "clip": true},
   "encoding": {
    "x": {"field": "t", "type": "quantitative", "scale": {"domain": [-207, 207], "nice": false, "zero": false}, "axis": {"title": null, "orient": "top", "values": [-200,-100,0,100,200], "labels": false, "tickSize": -7, "tickWidth": 2, "zindex": 2}},
    "y": {"field": "TH2", "type": "quantitative", "scale": {"domain": [1024, 1297], "nice": false, "zero": false}, "axis": {"title": null, "orient": "right", "values": [1100,1200], "labels": false, "tickSize": -7, "tickWidth": 2, "zindex": 2}}}},
  {"mark": {"type": "line", "opacity": 0, "clip": true},
   "encoding": {
    "x": {"field": "t", "type": "quantitative", "scale": {"domain": [-207, 207], "nice": false, "zero": false}, "axis": {"title": null, "orient": "bottom", "values": [-180,-160,-140,-120,-80,-60,-40,-20,20,40,60,80,120,140,160,180], "labels": false, "tickSize": -4, "tickWidth": 1.5, "zindex": 2}},
    "y": {"field": "TH2", "type": "quantitative", "scale": {"domain": [1024, 1297], "nice": false, "zero": false}, "axis": {"title": null, "orient": "left", "values": [1040,1060,1080,1120,1140,1160,1180,1220,1240,1260,1280], "labels": false, "tickSize": -4, "tickWidth": 1.5, "zindex": 2}}}},
  {"mark": {"type": "line", "opacity": 0, "clip": true},
   "encoding": {
    "x": {"field": "t", "type": "quantitative", "scale": {"domain": [-207, 207], "nice": false, "zero": false}, "axis": {"title": null, "orient": "top", "values": [-180,-160,-140,-120,-80,-60,-40,-20,20,40,60,80,120,140,160,180], "labels": false, "tickSize": -4, "tickWidth": 1.5, "zindex": 2}},
    "y": {"field": "TH2", "type": "quantitative", "scale": {"domain": [1024, 1297], "nice": false, "zero": false}, "axis": {"title": null, "orient": "right", "values": [1040,1060,1080,1120,1140,1160,1180,1220,1240,1260,1280], "labels": false, "tickSize": -4, "tickWidth": 1.5, "zindex": 2}}}}
 ],
 "resolve": {"axis": {"x": "independent", "y": "independent"}}
},
{
 "width": 609, "height": 112,
 "layer": [
  {"mark": {"type": "line", "color": "#0000ff", "strokeWidth": 1.3, "interpolate": "step", "clip": true},
   "encoding": {
    "x": {"field": "t", "type": "quantitative", "scale": {"domain": [-207, 207], "nice": false, "zero": false}, "axis": {"title": null, "orient": "bottom", "values": [-200,-100,0,100,200], "ticks": false, "labels": true, "labelPadding": 6, "format": "d"}},
    "y": {"field": "TH3", "type": "quantitative", "scale": {"domain": [1417, 1690], "nice": false, "zero": false}, "axis": {"title": null, "orient": "left", "values": [1500,1600], "ticks": false, "labelPadding": 6, "format": "d"}}}},
  {"mark": {"type": "line", "opacity": 0, "clip": true},
   "encoding": {
    "x": {"field": "t", "type": "quantitative", "scale": {"domain": [-207, 207], "nice": false, "zero": false}, "axis": {"title": null, "orient": "bottom", "values": [-200,-100,0,100,200], "labels": false, "tickSize": -7, "tickWidth": 2, "zindex": 2}},
    "y": {"field": "TH3", "type": "quantitative", "scale": {"domain": [1417, 1690], "nice": false, "zero": false}, "axis": {"title": null, "orient": "left", "values": [1500,1600], "labels": false, "tickSize": -7, "tickWidth": 2, "zindex": 2}}}},
  {"mark": {"type": "line", "opacity": 0, "clip": true},
   "encoding": {
    "x": {"field": "t", "type": "quantitative", "scale": {"domain": [-207, 207], "nice": false, "zero": false}, "axis": {"title": null, "orient": "top", "values": [-200,-100,0,100,200], "labels": false, "tickSize": -7, "tickWidth": 2, "zindex": 2}},
    "y": {"field": "TH3", "type": "quantitative", "scale": {"domain": [1417, 1690], "nice": false, "zero": false}, "axis": {"title": null, "orient": "right", "values": [1500,1600], "labels": false, "tickSize": -7, "tickWidth": 2, "zindex": 2}}}},
  {"mark": {"type": "line", "opacity": 0, "clip": true},
   "encoding": {
    "x": {"field": "t", "type": "quantitative", "scale": {"domain": [-207, 207], "nice": false, "zero": false}, "axis": {"title": null, "orient": "bottom", "values": [-180,-160,-140,-120,-80,-60,-40,-20,20,40,60,80,120,140,160,180], "labels": false, "tickSize": -4, "tickWidth": 1.5, "zindex": 2}},
    "y": {"field": "TH3", "type": "quantitative", "scale": {"domain": [1417, 1690], "nice": false, "zero": false}, "axis": {"title": null, "orient": "left", "values": [1420,1440,1460,1480,1520,1540,1560,1580,1620,1640,1660,1680], "labels": false, "tickSize": -4, "tickWidth": 1.5, "zindex": 2}}}},
  {"mark": {"type": "line", "opacity": 0, "clip": true},
   "encoding": {
    "x": {"field": "t", "type": "quantitative", "scale": {"domain": [-207, 207], "nice": false, "zero": false}, "axis": {"title": null, "orient": "top", "values": [-180,-160,-140,-120,-80,-60,-40,-20,20,40,60,80,120,140,160,180], "labels": false, "tickSize": -4, "tickWidth": 1.5, "zindex": 2}},
    "y": {"field": "TH3", "type": "quantitative", "scale": {"domain": [1417, 1690], "nice": false, "zero": false}, "axis": {"title": null, "orient": "right", "values": [1420,1440,1460,1480,1520,1540,1560,1580,1620,1640,1660,1680], "labels": false, "tickSize": -4, "tickWidth": 1.5, "zindex": 2}}}}
 ],
 "resolve": {"axis": {"x": "independent", "y": "independent"}}
}
]
}
